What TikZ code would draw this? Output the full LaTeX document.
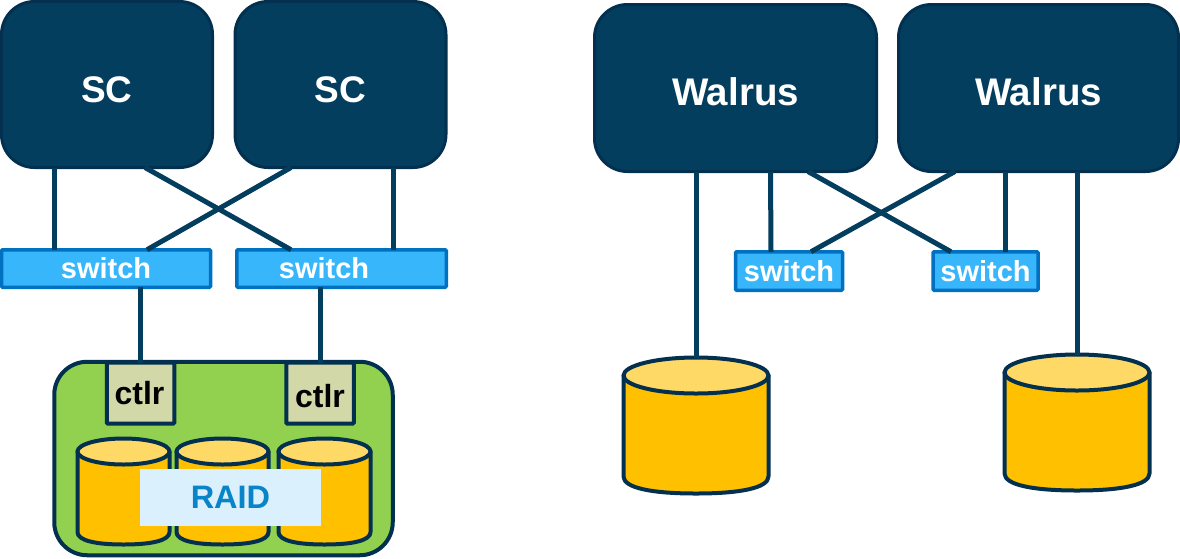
\documentclass[tikz,border=0pt]{standalone}
\usepackage{fontspec}
\setmainfont{Liberation Sans}
\definecolor{navy}{HTML}{043E5E}
\definecolor{navyedge}{HTML}{03304F}
\definecolor{swfill}{HTML}{38B6FC}
\definecolor{swedge}{HTML}{0070C0}
\definecolor{grn}{HTML}{92D050}
\definecolor{ctl}{HTML}{D2D8A8}
\definecolor{body}{HTML}{FFC000}
\definecolor{lid}{HTML}{FFD966}
\definecolor{raidfill}{HTML}{DAF0FD}
\definecolor{raidtext}{HTML}{0A84C8}
\tikzset{
  x=1pt,y=-1pt,
  every node/.style={outer sep=0pt,inner sep=0pt},
  serverbox/.style={draw=navyedge,fill=navy,line width=3pt,rounded corners=33pt,text=white,font=\bfseries\fontsize{37}{40}\selectfont},
  scbox/.style={serverbox,minimum width=211pt,minimum height=166pt,text height=35.5pt},
  wabox/.style={serverbox,minimum height=167pt,text height=35.6pt,font=\bfseries\fontsize{38.5}{40}\selectfont},
  switchbox/.style={draw=swedge,fill=swfill,line width=3.5pt,rounded corners=1pt,text=white,font=\bfseries\fontsize{29}{30}\selectfont},
  raidcase/.style={draw=navyedge,fill=grn,line width=4pt,rounded corners=33pt},
  ctlrbox/.style={draw=navyedge,fill=ctl,line width=4pt,rounded corners=1pt},
  ctlrtext/.style={text=black,font=\bfseries\fontsize{32}{34}\selectfont},
  canline/.style={draw=navyedge,line width=4pt,line join=round},
  raidlabel/.style={fill=raidfill,text=raidtext,minimum width=181pt,minimum height=57pt,font=\bfseries\fontsize{32.5}{34}\selectfont},
  wire/.style={draw=navy,line width=5pt},
}
% name, cx, cy, half width, half height, lid y radius
\newcommand\disknode[6]{%
  \node[minimum width=#4*2pt,minimum height=#5*2pt] (#1) at (#2,#3) {};
  \begin{scope}[shift={(#1.center)}]
    \path[canline,fill=body] (-#4,{-#5+#6}) -- (-#4,{#5-#6*0.95})
      .. controls (-#4,{#5-#6*0.3}) and ({-#4*0.6},#5) .. (0,#5)
      .. controls ({#4*0.6},#5) and (#4,{#5-#6*0.3}) .. (#4,{#5-#6*0.95})
      -- (#4,{-#5+#6}) -- cycle;
    \path[canline,fill=lid] (0,{-#5+#6}) ellipse [x radius=#4,y radius=#6];
  \end{scope}
}
\begin{document}
\begin{tikzpicture}
\useasboundingbox (0,0) rectangle (1180,558);
% servers
\node[scbox] (sc1) at (107,84.5) {SC};
\node[scbox] (sc2) at (340.5,84.5) {SC};
\node[wabox,minimum width=282pt] (wa1) at (735.5,88) {Walrus};
\node[wabox,minimum width=280pt] (wa2) at (1038.5,88) {Walrus};
% switches
\node[switchbox,minimum width=209pt,minimum height=37.5pt] (sw1) at (106,268.5) {\raisebox{-1pt}{switch}};
\node[switchbox,minimum width=209.5pt,minimum height=37.5pt] (sw2) at (341.5,268.5) {\hspace{-35pt}\raisebox{-1pt}{switch}};
\node[switchbox,minimum width=107pt,minimum height=38.5pt] (sw3) at (789,271) {switch};
\node[switchbox,minimum width=105pt,minimum height=38.5pt] (sw4) at (985.5,271) {switch};
% raid enclosure
\node[raidcase,minimum width=338.5pt,minimum height=193.5pt] (raid) at (223.5,458.5) {};
\disknode{d1}{123.5}{491.5}{46}{53}{13}
\disknode{d2}{222.5}{491.5}{46}{53}{13}
\disknode{d3}{324.5}{491.5}{46}{53}{13}
\node[raidlabel] (rl) at (230.5,497.5) {RAID};
\node[ctlrbox,minimum width=67.5pt,minimum height=61pt] (c1) at (140.5,393) {};
\node[ctlrbox,minimum width=67.5pt,minimum height=61pt] (c2) at (320,393) {};
\node[ctlrtext] (c1t) at (139.5,393) {ctlr};
\node[ctlrtext] (c2t) at (320,396) {ctlr};
% stand-alone disks
\disknode{d4}{696}{425.5}{72.5}{68}{18}
\disknode{d5}{1077}{422.5}{72.5}{68}{18}
% connectors
\draw[wire] ([xshift=-53pt]sc1.south) -- ([xshift=-52pt]sw1.north);
\draw[wire] ([xshift=38pt]sc1.south) -- ([xshift=-50.5pt]sw2.north);
\draw[wire] ([xshift=-49.5pt]sc2.south) -- ([xshift=41pt]sw1.north);
\draw[wire] ([xshift=52.5pt]sc2.south) -- ([xshift=51.5pt]sw2.north);
\draw[wire] ([xshift=34.5pt]sw1.south) -- (c1.north);
\draw[wire] ([xshift=-21.5pt]sw2.south) -- (c2.north);
\draw[wire] ([xshift=-39.5pt]wa1.south) -- (d4.north);
\draw[wire] ([xshift=35pt]wa1.south) -- ([xshift=-18pt]sw3.north);
\draw[wire] ([xshift=72.5pt]wa1.south) -- ([xshift=-34.5pt]sw4.north);
\draw[wire] ([xshift=-83.5pt]wa2.south) -- ([xshift=22pt]sw3.north);
\draw[wire] ([xshift=-33.5pt]wa2.south) -- ([xshift=19.5pt]sw4.north);
\draw[wire] ([xshift=38.5pt]wa2.south) -- (d5.north);
\end{tikzpicture}
\end{document}
